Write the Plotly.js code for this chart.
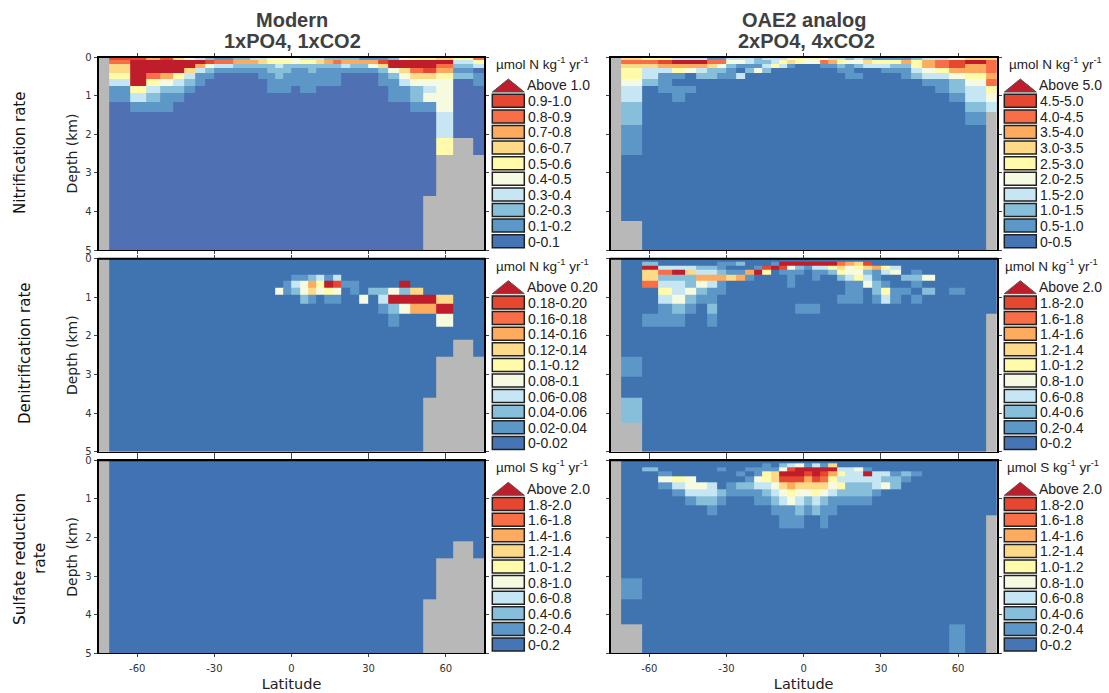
<!DOCTYPE html>
<html><head><meta charset="utf-8">
<script src="https://cdn.plot.ly/plotly-3.0.1.min.js"></script>
<style>html,body{margin:0;padding:0;background:#fff}#c{width:1109px;height:693px}</style>
</head><body><div id="c"></div>
<script>
// grid edges
const latEdges=[-90,-70.81,-62.73,-56.44,-51.06,-46.2,-41.81,-37.67,-33.75,-30,-26.39,-22.89,-19.47,-16.13,-12.84,-9.59,-6.38,-3.18,0,3.18,6.38,9.59,12.84,16.13,19.47,22.89,26.39,30,33.75,37.67,41.81,46.2,51.06,56.44,62.73,70.81,90];
const depthEdges=[0,0.08,0.18,0.29,0.41,0.57,0.74,0.94,1.17,1.43,1.75,2.1,2.55,3.05,3.6,4.25,5];

// land mask: column -> first land row
const landModern={0:0,32:14,33:12,34:11,35:12};
const landOAE={0:0,1:15,35:9};

// class per cell: 0-9 = legend bins, A = above. Columns listed west to east, each top to bottom.
const nitrifModern=["","98665311","9AAAAA531","7AAA85321","9AAA74211","6AAA5321","4AA6321","3A7311","29421","1831","1831","2721","2721","3721","36211","4522111","4532211","4522111","442111","3521111","3522111","362111","272111","282111","2731","2721","1721","1741","196211","2AA42111","4AA64311","5AA864221","5AA964341","6A8754444335","53212","853011"];
const nitrifOAE=["","686554332211","586332","5973111","3A751011","3A74001","3A732","18622","18421","34211","34103","3312","2214","3232","335","353","461","55","44","54","481","371","3521","24111","34201","263","153","1531","1521","17211","25532","377431","3885311","49974221","6A77543321","688878543"];

// sparse cells: [row, start column, classes]
const denitModern=[[4,18,"112313"],[5,17,"13475A9110000A"],[6,16,"4124645401022426"],[7,19,"2101100403AAAA6"],[8,28,"12477A"],[9,29,"10004"]];
const denitOAE=[[1,2,"2000001120001AAAAAAA8769"],[2,2,"A33322100019A94213356456753"],[3,2,"68A6332117A501110112544213401"],
 [4,2,"622277767100001001002353100224"],[5,2,"8332431"],[5,16,"1"],[5,23,"11421"],[5,30,"1"],[6,3,"534211"],[6,23,"110251102"],[6,33,"1"],
 [7,3,"34211"],[7,22,"111013101"],[8,3,"12102"],[8,17,"111"],[9,2,"111001"],[12,1,"1"],[14,1,"2"]];
const sulfModern=[];
const sulfOAE=[[1,13,"1"],[1,15,"234131"],[1,21,"6"],[2,2,"2"],[2,8,"1"],[2,11,"11114"],[2,16,"9AAAAA3341"],[3,3,"1"],[3,10,"10156AAA9A97533A33121"],
 [4,3,"454"],[4,11,"14569997985333332 21".replace(/ /g,"")],[5,3,"13443"],[5,9,"12233467666645222342"],[6,4,"13332111123454454322221"],
 [7,5,"1221"],[7,12,"11234323211111"],[8,7,"1"],[8,14,"11121211"],[9,15,"111001"],[13,1,"1"],[15,33,"1"]];

// legends
const labelsNitrifModern=["0-0.1","0.1-0.2","0.2-0.3","0.3-0.4","0.4-0.5","0.5-0.6","0.6-0.7","0.7-0.8","0.8-0.9","0.9-1.0"];
const labelsNitrifOAE=["0-0.5","0.5-1.0","1.0-1.5","1.5-2.0","2.0-2.5","2.5-3.0","3.0-3.5","3.5-4.0","4.0-4.5","4.5-5.0"];
const labelsDenitModern=["0-0.02","0.02-0.04","0.04-0.06","0.06-0.08","0.08-0.1","0.1-0.12","0.12-0.14","0.14-0.16","0.16-0.18","0.18-0.20"];
const labelsTwo=["0-0.2","0.2-0.4","0.4-0.6","0.6-0.8","0.8-1.0","1.0-1.2","1.2-1.4","1.4-1.6","1.6-1.8","1.8-2.0"];
const binColors=["#4575b4","#5c97c7","#87bfdb","#c5e6f2","#f5fae0","#fffbab","#fdda88","#fdab5e","#f86f47","#e54730","#bf1d2c"];

const W=1109,H=693;
const panelX=[[98.7,484.3],[610.7,996.7]];
const panelY=[[57,250],[258.7,451.7],[460.3,653.3]];
const px=v=>v/W, py=v=>1-v/H;

function emptyGrid(){return depthEdges.slice(1).map(()=>latEdges.slice(1).map(()=>0));}
const val=c=>c==="A"?10:parseInt(c,10);
function fromCols(cols,land){
  const g=emptyGrid();
  cols.forEach((s,j)=>{[...s].forEach((c,i)=>{g[i][j]=val(c);});});
  return mask(g,land);
}
function fromCells(cells,land){
  const g=emptyGrid();
  cells.forEach(([r,st,s])=>{[...s].forEach((c,k)=>{g[r][st+k]=val(c);});});
  return mask(g,land);
}
function mask(g,land){
  Object.keys(land).forEach(k=>{for(let r=land[k];r<g.length;r++)g[r][+k]=null;});
  return g;
}

const panels=[
 {z:fromCols(nitrifModern,landModern),c:0,r:0,labels:labelsNitrifModern,above:"Above 1.0",unit:"N",base:"#4f71b3",ux:495},
 {z:fromCols(nitrifOAE,landOAE),c:1,r:0,labels:labelsNitrifOAE,above:"Above 5.0",unit:"N",base:"#3f74b0",ux:1008},
 {z:fromCells(denitModern,landModern),c:0,r:1,labels:labelsDenitModern,above:"Above 0.20",unit:"N",base:"#3f74b0",ux:495},
 {z:fromCells(denitOAE,landOAE),c:1,r:1,labels:labelsTwo,above:"Above 2.0",unit:"N",base:"#3f74b0",ux:1004},
 {z:fromCells(sulfModern,landModern),c:0,r:2,labels:labelsTwo,above:"Above 2.0",unit:"S",base:"#4173b2",ux:495},
 {z:fromCells(sulfOAE,landOAE),c:1,r:2,labels:labelsTwo,above:"Above 2.0",unit:"S",base:"#3f74b0",ux:1006}
];

const traces=[],shapes=[],annotations=[];
const layout={width:W,height:H,autosize:false,margin:{l:0,r:0,t:0,b:0},paper_bgcolor:"#fff",plot_bgcolor:"#b8b8b8",showlegend:false};
const legendFont='"Liberation Sans",Arial,sans-serif', axisFont='"DejaVu Sans",sans-serif';

panels.forEach((p,idx)=>{
  const n=idx+1, xn="x"+n, yn="y"+n;
  const cs=[];
  binColors.forEach((col,i)=>{const c=i===0?p.base:col;cs.push([i/11,c],[(i+1)/11,c]);});
  traces.push({type:"heatmap",x:latEdges,y:depthEdges,z:p.z,xaxis:xn,yaxis:yn,zmin:-0.5,zmax:10.5,colorscale:cs,showscale:false,zsmooth:false,hoverinfo:"skip"});
  const [x0,x1]=panelX[p.c],[y0,y1]=panelY[p.r];
  layout["xaxis"+n]={domain:[px(x0),px(x1)],range:[-75,75],anchor:yn,tickmode:"array",tickvals:[-60,-30,0,30,60],
    ticktext:["-60","-30","0","30","60"],showticklabels:p.r===2,ticklabelstandoff:3,
    ticks:"outside",ticklen:3,tickwidth:1,tickcolor:"#444",showgrid:false,zeroline:false,showline:true,linecolor:"#000",linewidth:1,mirror:"ticks",
    tickfont:{family:axisFont,size:10,color:"#333"},
    title:p.r===2?{text:"Latitude",font:{family:axisFont,size:14.5,color:"#222"},standoff:5}:undefined};
  layout["yaxis"+n]={domain:[py(y1),py(y0)],range:[5,0],anchor:xn,tickmode:"array",tickvals:[0,1,2,3,4,5],
    ticktext:["0","1","2","3","4","5"],showticklabels:p.c===0,
    ticks:"outside",ticklen:3,tickwidth:1,tickcolor:"#444",showgrid:false,zeroline:false,showline:true,linecolor:"#000",linewidth:2,mirror:"ticks",
    tickfont:{family:axisFont,size:10,color:"#333"},
    title:p.c===0?{text:"Depth (km)",font:{family:axisFont,size:14,color:"#222"},standoff:4}:undefined};
  // heavy top edge
  shapes.push({type:"line",xref:"paper",yref:"paper",x0:px(x0-1),x1:px(x1+1),y0:py(y0),y1:py(y0),line:{color:"#000",width:2},layer:"above"});

  // legend
  const lx=p.c===0?492.3:1004.3, bw=32, top=y0+37.3, pitch=15.6, bh=13;
  annotations.push({xref:"paper",yref:"paper",x:px(p.ux-1),y:py(y0+6),xanchor:"left",yanchor:"middle",showarrow:false,
    text:"µmol "+p.unit+" kg<sup>-1</sup> yr<sup>-1</sup>",font:{family:legendFont,size:13.5,color:"#222"}});
  shapes.push({type:"path",xref:"paper",yref:"paper",path:`M ${px(lx)} ${py(y0+35)} L ${px(lx+16)} ${py(y0+22)} L ${px(lx+32)} ${py(y0+35)} Z`,
    fillcolor:binColors[10],line:{color:"#555",width:1},layer:"above"});
  annotations.push({xref:"paper",yref:"paper",x:px(lx+33),y:py(y0+28.5),xanchor:"left",yanchor:"middle",showarrow:false,text:p.above,font:{family:legendFont,size:14,color:"#222"}});
  for(let i=0;i<10;i++){
    const k=9-i, t=top+i*pitch;
    shapes.push({type:"rect",xref:"paper",yref:"paper",x0:px(lx),x1:px(lx+bw),y0:py(t),y1:py(t+bh),fillcolor:binColors[k],line:{color:"#222",width:1.5},layer:"above"});
    annotations.push({xref:"paper",yref:"paper",x:px(lx+33.5),y:py(t+bh/2+0.4),xanchor:"left",yanchor:"middle",showarrow:false,text:p.labels[k],font:{family:legendFont,size:14,color:"#222"}});
  }
});

// column and row headings
[["Modern",292,20],["1xPO4, 1xCO2",292,41],["OAE2 analog",804,20],["2xPO4, 4xCO2",806,41]].forEach(([t,x,y])=>{
  annotations.push({xref:"paper",yref:"paper",x:px(x),y:py(y),xanchor:"center",yanchor:"middle",showarrow:false,text:"<b>"+t+"</b>",font:{family:legendFont,size:20,color:"#404040"}});
});
[["Nitrification rate",20,153,15],["Denitrification rate",25,353,15],["Sulfate reduction",20,559,15.4],["rate",40,559,15.4]].forEach(([t,x,y,s])=>{
  annotations.push({xref:"paper",yref:"paper",x:px(x),y:py(y),xanchor:"center",yanchor:"middle",textangle:-90,showarrow:false,text:t,font:{family:axisFont,size:s,color:"#111"}});
});
layout.shapes=shapes;layout.annotations=annotations;
Plotly.newPlot("c",traces,layout,{staticPlot:true,displayModeBar:false});
</script></body></html>
